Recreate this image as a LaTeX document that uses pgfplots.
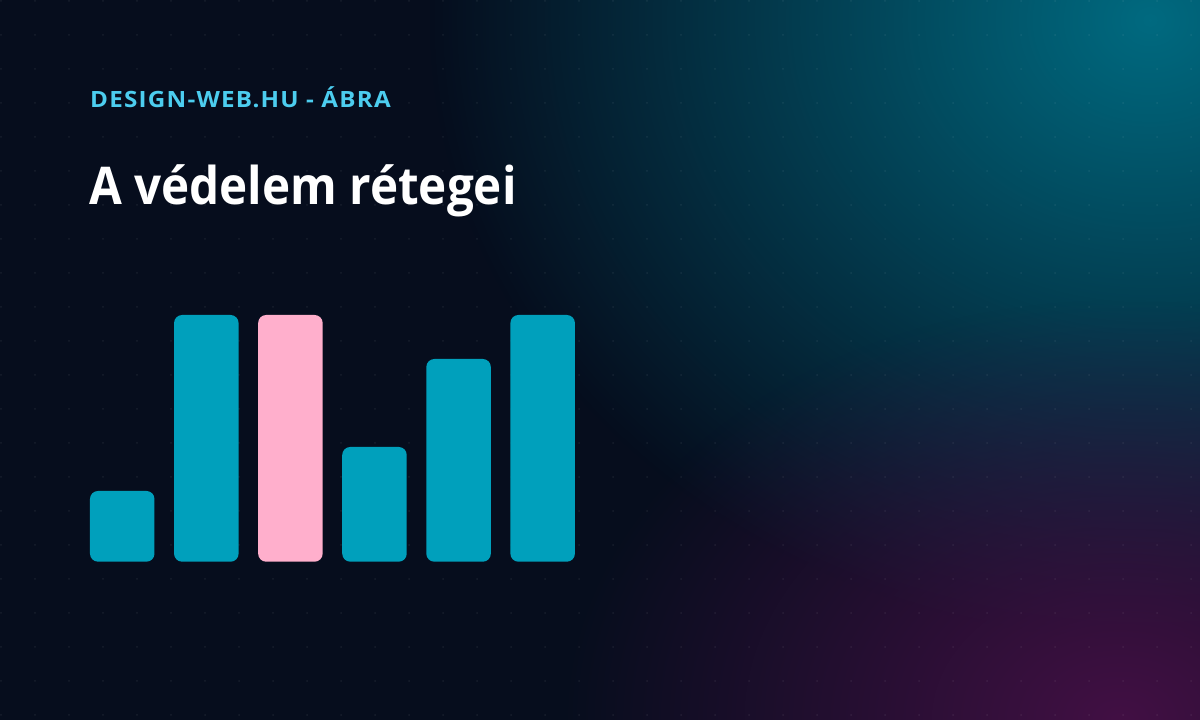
\documentclass[border=0pt]{standalone}
\usepackage{pgfplots}
\pgfplotsset{compat=1.18}
\usepackage{fontspec}
\setmainfont{Open Sans}
\newfontfamily\titlefont{Open Sans}[FakeStretch=0.915]
\newfontfamily\subfont{Open Sans}[FakeStretch=1.08, LetterSpace=5.5]
\usetikzlibrary{fadings}
\tikzfading[name=glow, inner color=transparent!0, outer color=transparent!100]
\definecolor{bg}{HTML}{060D1D}
\definecolor{tealglow}{HTML}{006A80}
\definecolor{magglow}{HTML}{421044}
\definecolor{barteal}{HTML}{00A0BC}
\definecolor{barpink}{HTML}{FFAFCC}
\definecolor{subcol}{HTML}{4CCDEF}
\begin{document}
\begin{tikzpicture}[x=1pt,y=1pt]
\useasboundingbox (0,0) rectangle (1200,720);
\fill[bg] (0,0) rectangle (1200,720);
\begin{scope}
\clip (0,0) rectangle (1200,720);
\fill[tealglow, path fading=glow] (1150,700) ellipse [x radius=720, y radius=620];
\fill[magglow, path fading=glow] (1120,0) ellipse [x radius=560, y radius=420];
\foreach \i in {0,...,35} {
  \foreach \j in {0,...,21} {
    \fill[white, opacity=0.07] ({34*\i+1}, {719-34*\j}) circle (1);
  }
}
\end{scope}
\node[anchor=base west, inner sep=0, text=subcol, font=\subfont\fontsize{22.4}{26}\selectfont\bfseries] at (90,612.3) {DESIGN-WEB.HU - ÁBRA};
\node[anchor=base west, inner sep=0, text=white, font=\titlefont\fontsize{52}{60}\selectfont\bfseries] at (89,515) {A védelem rétegei};
\begin{axis}[
  at={(80.2pt,158.3pt)}, anchor=south west,
  scale only axis, width=504.5pt, height=250pt,
  xmin=-0.5, xmax=5.5, ymin=0, ymax=250,
  axis lines=none, ticks=none,
  ybar, bar width=64.5pt,
]
\addplot[fill=barteal, draw=none, rounded corners=8pt, bar shift=0pt] coordinates {(0,70.7) (1,246.7) (3,114.7) (4,202.7) (5,246.7)};
\addplot[fill=barpink, draw=none, rounded corners=8pt, bar shift=0pt] coordinates {(2,246.7)};
\end{axis}
\end{tikzpicture}
\end{document}
